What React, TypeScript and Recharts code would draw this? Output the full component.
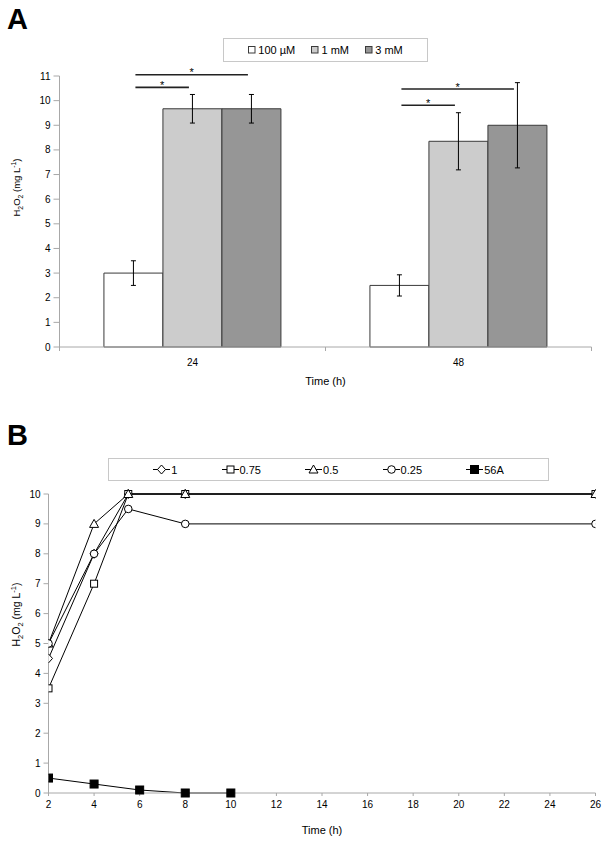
import React from 'react';
import { BarChart, Bar, XAxis, YAxis, ErrorBar, LabelList, Legend, LineChart, Line } from 'recharts';

// ---------- Panel A data ----------
const timesA = ['24', '48'];
const seriesA = ['100 µM', '1 mM', '3 mM'];
const mean100uM = [3.0, 2.5];
const sd100uM = [0.5, 0.43];
const mean1mM = [9.67, 8.35];
const sd1mM = [0.58, 1.16];
const mean3mM = [9.67, 9.0];
const sd3mM = [0.58, 1.73];
const yTicksA = [0, 1, 2, 3, 4, 5, 6, 7, 8, 9, 10, 11];
// significance brackets: time index, compared series, bracket height (mg/L)
const sigTime = [0, 0, 1, 1];
const sigTo = [1, 2, 1, 2];
const sigLevel = [10.54, 11.05, 9.81, 10.47];

// ---------- Panel B data ----------
const seriesB = ['1', '0.75', '0.5', '0.25', '56A'];
const timeB = [2, 4, 5.5, 8, 26];
const conc1 = [4.5, 8, 10, 10, 10];
const conc075 = [3.5, 7, 10, 10, 10];
const conc05 = [5, 9, 10, 10, 10];
const conc025 = [5, 8, 9.5, 9, 9];
const time56A = [2, 4, 6, 8, 10];
const conc56A = [0.5, 0.3, 0.1, 0, 0];
const xTicksB = [2, 4, 6, 8, 10, 12, 14, 16, 18, 20, 22, 24, 26];
const yTicksB = [0, 1, 2, 3, 4, 5, 6, 7, 8, 9, 10];

const FONT = '"Liberation Sans", Arial, Helvetica, sans-serif';
const GRAY = '#a8a8a8';
const BAR_FILLS = ['#ffffff', '#cccccc', '#969696'];
const BAR_STROKE = '#3a3a3a';
const GAP = 0.167;

const rowsA = timesA.map((t, i) => ({
  time: t,
  m0: mean100uM[i], e0: sd100uM[i],
  m1: mean1mM[i], e1: sd1mM[i],
  m2: mean3mM[i], e2: sd3mM[i],
}));

const YLabel = (cx: number, shift: number, fs: number) => (props: any) => {
  const vb = props.viewBox || {};
  const cy = vb.y + vb.height / 2 - shift;
  const sub = fs * 0.72;
  return (
    <text x={cx} y={cy} transform={`rotate(-90 ${cx} ${cy})`} textAnchor="middle" fontSize={fs} fill="#000" fontFamily={FONT}>
      H<tspan dy={3} fontSize={sub}>2</tspan><tspan dy={-3}>O</tspan><tspan dy={3} fontSize={sub}>2</tspan><tspan dy={-3}> (mg L</tspan><tspan dy={-4} fontSize={sub}>-1</tspan><tspan dy={4}>)</tspan>
    </text>
  );
};

const TickA = (props: any) => {
  const { x, y, payload, width, visibleTicksCount } = props;
  const half = width / (visibleTicksCount || 2) / 2;
  return (
    <g>
      <line x1={x - half} x2={x - half} y1={y} y2={y + 4} stroke={GRAY} />
      <line x1={x + half} x2={x + half} y1={y} y2={y + 4} stroke={GRAY} />
      <text x={x} y={y + 19} textAnchor="middle" fontSize={10} fill="#000" fontFamily={FONT}>
        {payload.value}
      </text>
    </g>
  );
};

const Brackets = (props: any) => {
  const { x, y, width, height, value, index } = props;
  if (!value) return null;
  const base = y + height;
  const ppu = height / value;
  return (
    <g>
      {sigLevel.map((lv, k) => {
        if (sigTime[k] !== index) return null;
        const x1 = x + width / 2 + 2;
        const x2 = x + width * (sigTo[k] + 0.5) - 3.5;
        const yy = base - lv * ppu;
        return (
          <g key={k}>
            <line x1={x1} x2={x2} y1={yy} y2={yy} stroke="#222" strokeWidth={1.6} />
            <text x={(x1 + x2) / 2} y={yy + 1.5} textAnchor="middle" fontSize={11} fill="#000" fontFamily={FONT}>*</text>
          </g>
        );
      })}
    </g>
  );
};

const LegendA = () => (
  <div style={{
    boxSizing: 'border-box', width: 205, height: 24, border: '1px solid #c8c8c8', background: '#fff',
    display: 'flex', alignItems: 'center', justifyContent: 'space-evenly', padding: '0 8px',
    fontFamily: FONT, fontSize: 11, color: '#000',
  }}>
    {seriesA.map((s, i) => (
      <span key={s} style={{ display: 'flex', alignItems: 'center' }}>
        <svg width={8} height={8} style={{ marginRight: 2 }}>
          <rect x={0.5} y={0.5} width={6.5} height={6.5} fill={BAR_FILLS[i]} stroke={BAR_STROKE} />
        </svg>
        {s}
      </span>
    ))}
  </div>
);

const Marker = ({ kind, cx, cy }: { kind: number; cx: number; cy: number }) => {
  const st = { stroke: '#000', strokeWidth: 1, fill: '#fff' };
  switch (kind) {
    case 0:
      return <polygon points={`${cx},${cy - 4.5} ${cx + 4},${cy} ${cx},${cy + 4.5} ${cx - 4},${cy}`} {...st} />;
    case 1:
      return <rect x={cx - 3.5} y={cy - 3.5} width={7} height={7} {...st} />;
    case 2:
      return <polygon points={`${cx},${cy - 4.5} ${cx + 4.5},${cy + 3.5} ${cx - 4.5},${cy + 3.5}`} {...st} />;
    case 3:
      return <circle cx={cx} cy={cy} r={3.8} {...st} />;
    default:
      return <rect x={cx - 4} y={cy - 4} width={8} height={8} fill="#000" stroke="#000" />;
  }
};

const LegendB = () => (
  <div style={{
    boxSizing: 'border-box', width: 441, height: 23, border: '1px solid #c8c8c8', background: '#fff',
    display: 'flex', alignItems: 'center', justifyContent: 'space-evenly',
    fontFamily: FONT, fontSize: 11, color: '#000',
  }}>
    {seriesB.map((s, i) => (
      <span key={s} style={{ display: 'flex', alignItems: 'center' }}>
        <svg width={17} height={11} style={{ marginRight: 1 }}>
          <line x1={0} x2={17} y1={5.5} y2={5.5} stroke="#000" />
          <Marker kind={i} cx={8.5} cy={5.5} />
        </svg>
        {s}
      </span>
    ))}
  </div>
);

const dataB = [
  timeB.map((t, i) => ({ t, v: conc1[i] })),
  timeB.map((t, i) => ({ t, v: conc075[i] })),
  timeB.map((t, i) => ({ t, v: conc05[i] })),
  timeB.map((t, i) => ({ t, v: conc025[i] })),
  time56A.map((t, i) => ({ t, v: conc56A[i] })),
];

const axisTick = { fontSize: 10, fill: '#000', fontFamily: FONT };

export default function App() {
  return (
    <div style={{ position: 'absolute', left: 0, top: 0, width: 609, height: 842, background: '#fff', fontFamily: FONT }}>
      <div style={{ position: 'absolute', left: 7, top: 2, fontSize: 29, fontWeight: 'bold', lineHeight: '34px' }}>A</div>
      <div style={{ position: 'absolute', left: 7, top: 418, fontSize: 29, fontWeight: 'bold', lineHeight: '34px' }}>B</div>

      <div style={{ position: 'absolute', left: 0, top: 0 }}>
        <BarChart width={609} height={400} data={rowsA} margin={{ top: 76, right: 17.5, bottom: 0, left: 0 }}
          barCategoryGap={`${GAP * 100}%`} barGap={0}>
          <XAxis dataKey="time" type="category" height={53} tickSize={0} tickMargin={0} tickLine={false}
            axisLine={{ stroke: GRAY }} tick={<TickA />} interval={0}
            label={(p: any) => (
              <text x={p.viewBox.x + p.viewBox.width / 2} y={p.viewBox.y + 38} textAnchor="middle" fontSize={11} fontFamily={FONT} fill="#000">Time (h)</text>
            )} />
          <YAxis width={59.5} domain={[0, 11]} ticks={yTicksA} interval={0} tickSize={6} tickMargin={3}
            axisLine={{ stroke: GRAY }} tickLine={{ stroke: GRAY }} tick={axisTick}
            label={YLabel(20, 24, 9.5)} />
          <Legend layout="horizontal" verticalAlign="middle" align="center" content={<LegendA />}
            wrapperStyle={{ left: 223, top: 38, width: 205, height: 24 }} />
          {[0, 1, 2].map((s) => (
            <Bar key={s} dataKey={`m${s}`} name={seriesA[s]} fill={BAR_FILLS[s]} stroke={BAR_STROKE}
              strokeWidth={1} isAnimationActive={false}>
              <ErrorBar dataKey={`e${s}`} width={2.5} stroke="#000" strokeWidth={1} direction="y" />
              {s === 0 ? <LabelList dataKey="m0" content={<Brackets />} /> : null}
            </Bar>
          ))}
        </BarChart>
      </div>

      <div style={{ position: 'absolute', left: 0, top: 420 }}>
        <LineChart width={609} height={422} margin={{ top: 74, right: 13.5, bottom: 0, left: 0 }}>
          <XAxis dataKey="t" type="number" domain={[2, 26]} ticks={xTicksB} interval={0} height={49}
            tickSize={3} tickMargin={5} axisLine={{ stroke: GRAY }} tickLine={{ stroke: GRAY }} tick={axisTick}
            allowDataOverflow
            label={(p: any) => (
              <text x={p.viewBox.x + p.viewBox.width / 2} y={p.viewBox.y + 41} textAnchor="middle" fontSize={11} fontFamily={FONT} fill="#000">Time (h)</text>
            )} />
          <YAxis width={48.5} domain={[0, 10]} ticks={yTicksB} interval={0} tickSize={5} tickMargin={3}
            axisLine={{ stroke: GRAY }} tickLine={{ stroke: GRAY }} tick={axisTick}
            label={YLabel(19.5, 29, 10.5)} />
          <Legend layout="horizontal" verticalAlign="middle" align="center" content={<LegendB />}
            wrapperStyle={{ left: 108, top: 38, width: 441, height: 23 }} />
          {dataB.map((d, i) => (
            <Line key={i} data={d} dataKey="v" name={seriesB[i]} stroke="#000" strokeWidth={1}
              isAnimationActive={false} type="linear"
              dot={(p: any) => <Marker key={`${i}-${p.index}`} kind={i} cx={p.cx} cy={p.cy} />}
              activeDot={false} />
          ))}
        </LineChart>
      </div>
    </div>
  );
}
